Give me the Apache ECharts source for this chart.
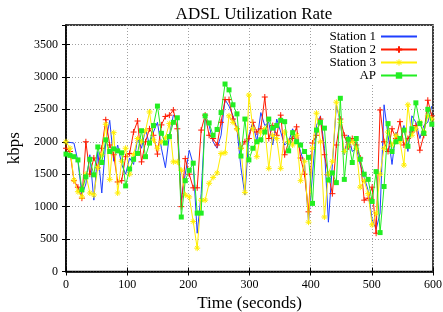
<!DOCTYPE html>
<html><head><meta charset="utf-8">
<script src="https://cdn.jsdelivr.net/npm/echarts@6/dist/echarts.min.js"></script>
<style>html,body{margin:0;padding:0;background:#fff}#c{width:443px;height:312px}</style>
</head><body><div id="c"></div>
<script>
const times = [0,6.5,13,19.5,26,32.5,39,45.5,52,58.5,
65,71.5,78,84.5,91,97.5,104,110.5,117,123.5,
130,136.5,143,149.5,156,162.5,169,175.5,182,188.5,
195,201.5,208,214.5,221,227.5,234,240.5,247,253.5,
260,266.5,273,279.5,286,292.5,299,305.5,312,318.5,
325,331.5,338,344.5,351,357.5,364,370.5,377,383.5,
390,396.5,403,409.5,416,422.5,429,435.5,442,448.5,
455,461.5,468,474.5,481,487.5,494,500.5,507,513.5,
520,526.5,533,539.5,546,552.5,559,565.5,572,578.5,
585,591.5,598];
const station1 = [2000,1990,1980,1700,1180,1350,1800,1100,1850,1210,
2000,2330,1700,1950,1650,1500,1750,1650,2050,1900,
2200,1950,2150,2300,1900,1600,2100,2410,2350,1100,
1500,1870,1650,590,1200,2350,2250,2000,1900,2100,
2650,2550,2400,2200,1600,1180,2100,2300,2000,2450,
2250,2300,1950,2350,2150,1950,2000,2200,2050,1850,
1650,760,1500,2250,2400,1900,760,1650,2570,2300,
1800,2100,1850,1900,1650,1450,1250,800,650,900,
2570,2100,1650,2150,2000,2250,1850,2400,2300,2050,
2250,2300,2550];
const station2 = [1900,1850,1400,1300,1130,2000,1500,1750,1600,1900,
2340,1950,1800,1380,1400,1770,1820,2150,2320,1690,
2000,2200,2100,1810,2260,2390,2410,2490,2200,1000,
1740,1500,1290,1290,2180,2410,2100,2050,1950,2300,
2650,2650,2350,2200,1900,2000,2050,2300,2150,2200,
2690,2050,2250,2100,2410,1800,2000,2050,2230,1750,
1500,920,1980,2100,2350,1800,1490,1200,1950,2350,
2100,1920,2050,1950,1750,1100,1130,1300,590,2490,
2000,1850,2200,2050,2310,1950,2050,2150,2250,1870,
2100,2640,2400];
const station3 = [2000,1900,1410,1230,1150,1500,1210,1180,1600,1800,
2270,1420,2140,1210,1700,1900,1500,1800,2050,2000,
2170,2460,2030,1900,2000,2060,2280,1690,1690,1560,
1180,1150,770,360,1100,1100,1360,1450,1520,1820,
1830,2400,2300,2200,1900,1220,2720,2200,1770,2150,
2200,1590,2100,2050,1590,2150,2000,1950,2100,1400,
1700,760,1900,2440,2000,840,1500,1700,2610,2300,
1850,1950,2000,1900,1300,1400,1200,720,900,1500,
1900,2150,1950,2100,2000,1640,2570,2100,2200,2300,
2150,2400,2350];
const ap = [1810,1790,1770,1720,1260,1460,1730,1490,1920,1680,
2030,1850,1890,1860,1830,1320,1580,1730,1820,2170,
1770,1980,2250,2550,2130,1980,2080,2300,2370,840,
1400,1560,1670,900,900,2400,2290,2100,2190,2450,
2890,2800,2570,2430,1780,2350,1720,1900,2000,2030,
2150,2350,2210,2250,2330,2310,1860,2140,2000,1950,
1850,1760,1050,2180,2300,2210,1410,1520,1370,2670,
1420,2040,1680,2050,1730,1500,1420,1080,1540,600,
1310,2280,1850,2000,2050,2180,1930,2200,2600,2280,
2130,2500,2270];
const seriesNames = ['Station 1','Station 2','Station 3','AP'];
const xTicks = [0,100,200,300,400,500,600];
const yTicks = [0,500,1000,1500,2000,2500,3000,3500];

const pair = v => v.map((y,i)=>[times[i], y]);
const FONT = 'Liberation Serif';
const C1 = '#1f3fff', C2 = '#ff1a00', C3 = '#ffee00', C4 = '#22ee22';
const chart = echarts.init(document.getElementById('c'), null, {renderer:'canvas'});
const plusPath = 'path://M0,5L10,5M5,0L5,10';
const starPath = 'path://M0,5L10,5M5,0L5,10M1.5,1.5L8.5,8.5M1.5,8.5L8.5,1.5';
const gridLine = {show:true, lineStyle:{color:'#a0a0a0', type:[1,2], width:1}};
chart.setOption({
  animation:false,
  backgroundColor:'#fff',
  title:{text:'ADSL Utilization Rate', left:249, top:1, textAlign:'center',
    textStyle:{fontFamily:FONT, fontSize:17, fontWeight:'normal', color:'#000'}},
  legend:{orient:'vertical', right:12, top:27, align:'right', padding:[3,13,1,13],
    backgroundColor:'#fff', itemWidth:36, itemHeight:8, itemGap:0, selectedMode:false,
    textStyle:{fontFamily:FONT, fontSize:13, color:'#000', lineHeight:13},
    data:[
      {name:seriesNames[0], itemStyle:{opacity:0}},
      {name:seriesNames[1]},
      {name:seriesNames[2], itemStyle:{color:C3, borderColor:C3, borderWidth:1}},
      {name:seriesNames[3]}
    ]},
  grid:{left:66, right:10, top:25, bottom:40.5, outerBoundsMode:'none', containLabel:false,
    show:true, borderColor:'#000', borderWidth:1.5, backgroundColor:'transparent'},
  xAxis:[{type:'value', min:xTicks[0], max:xTicks[xTicks.length-1], interval:100,
    name:'Time (seconds)', nameLocation:'middle', nameGap:9,
    nameTextStyle:{fontFamily:FONT, fontSize:17, color:'#000'},
    axisLine:{show:true, lineStyle:{color:'#000', width:1.5}},
    axisTick:{show:true, inside:true, length:4, lineStyle:{color:'#000'}},
    axisLabel:{fontFamily:FONT, fontSize:12, color:'#000', margin:7},
    splitLine:gridLine},
   {type:'value', position:'top', min:0, max:600, interval:100,
    axisLine:{show:false}, axisLabel:{show:false}, splitLine:{show:false},
    axisTick:{show:true, inside:true, length:4, lineStyle:{color:'#000'}}}],
  yAxis:[{type:'value', min:0, max:3800, interval:500,
    name:'kbps', nameLocation:'middle', nameGap:36,
    nameTextStyle:{fontFamily:FONT, fontSize:17, color:'#000'},
    axisLine:{show:true, lineStyle:{color:'#000', width:1.5}},
    axisTick:{show:true, inside:true, length:4, lineStyle:{color:'#000'}},
    axisLabel:{fontFamily:FONT, fontSize:12, color:'#000', margin:8, showMaxLabel:false,
      formatter: v => yTicks.includes(v) ? String(v) : ''},
    splitLine:gridLine},
   {type:'value', position:'right', min:0, max:3800, interval:500,
    axisLine:{show:false}, axisLabel:{show:false}, splitLine:{show:false},
    axisTick:{show:true, inside:true, length:4, lineStyle:{color:'#000'}}}],
  series:[
    {name:seriesNames[0], type:'line', data:pair(station1), symbol:'none',
      lineStyle:{color:C1, width:1}, itemStyle:{color:C1}, z:2},
    {name:seriesNames[1], type:'line', data:pair(station2), symbol:plusPath, symbolSize:6,
      lineStyle:{color:C2, width:1}, itemStyle:{color:C2, borderColor:C2, borderWidth:1}, z:3},
    {name:seriesNames[2], type:'line', data:pair(station3), symbol:starPath, symbolSize:6,
      lineStyle:{color:C3, width:1}, itemStyle:{color:C3, borderColor:C3, borderWidth:1}, z:4},
    {name:seriesNames[3], type:'line', data:pair(ap), symbol:'rect', symbolSize:5,
      lineStyle:{color:C4, width:1}, itemStyle:{color:C4}, z:5}
  ]
});
</script></body></html>
